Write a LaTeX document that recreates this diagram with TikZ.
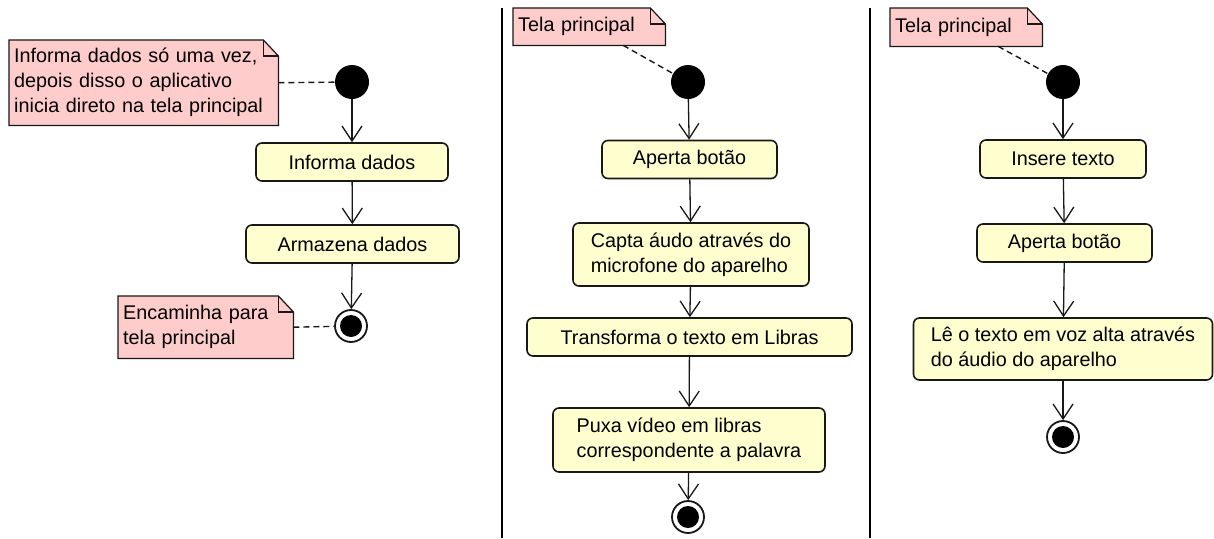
\documentclass[tikz,border=0pt]{standalone}
\usepackage{fontspec}
\setmainfont{Liberation Sans}
\usetikzlibrary{arrows.meta}
\pgfdeclarelayer{background}
\pgfsetlayers{background,main}
\definecolor{actfill}{HTML}{FEFECE}
\definecolor{notefill}{HTML}{FFCCCC}
\definecolor{lnk}{HTML}{181818}
\newcommand{\dogear}[1]{%
  \begin{pgfonlayer}{background}
  \filldraw[fill=notefill,draw=lnk,line width=1.2pt]
    (#1.north west) -- ([xshift=-15pt]#1.north east) -- ([yshift=-16pt]#1.north east)
    -- (#1.south east) -- (#1.south west) -- cycle;
  \draw[lnk,line width=1.2pt] ([xshift=-15pt]#1.north east) |- ([yshift=-16pt]#1.north east);
  \end{pgfonlayer}}
\tikzset{
  txt/.style={font=\fontsize{19.8}{25}\selectfont},
  act/.style={txt,draw=lnk,fill=actfill,line width=1.6pt,rounded corners=6pt,
    minimum height=38pt,inner sep=0pt,align=center},
  actm/.style={act,align=left},
  note/.style={txt,draw=none,fill=none,anchor=north west,inner xsep=5pt,inner ysep=0pt,align=left},
  startdot/.style={circle,fill=black,draw=none,minimum size=34pt,inner sep=0pt},
  endring/.style={circle,draw=lnk,line width=1.8pt,fill=white,minimum size=32pt,inner sep=0pt},
  flow/.style={lnk,line width=1.3pt,-{Straight Barb[length=15pt,width=20pt,line width=1.3pt]}},
  link/.style={lnk,line width=1.4pt,dash pattern=on 6pt off 4pt},
}
\begin{document}
\begin{tikzpicture}[x=1pt,y=-1pt]
\useasboundingbox (0,0) rectangle (1214,538);
\begin{pgfonlayer}{background}
\fill[white] (0,0) rectangle (1214,538);
\end{pgfonlayer}
% separators
\draw[black,line width=1.2pt] (502,8) -- (502,538);
\draw[black,line width=1.2pt] (870,8) -- (870,538);

% ---------- panel 1 ----------
\node[note,minimum width=269pt,minimum height=85pt,text width=259pt] (n1) at (9,40)
  {Informa dados só uma vez,\\depois disso o aplicativo\\inicia direto na tela principal};
\dogear{n1}
\node[startdot] (s1) at (352,82) {};
\node[act,minimum width=192pt] (a1) at (352,162) {Informa dados};
\node[act,minimum width=213pt] (a2) at (352.5,244) {Armazena dados};
\node[endring] (e1) at (351,326) {};
\fill[black] (e1.center) circle (11pt);
\node[note,minimum width=175pt,minimum height=62pt,text width=165pt] (n2) at (118,296)
  {Encaminha para\\tela principal};
\dogear{n2}
\draw[link] (n1.east) -- (s1);
\draw[link] (n2.east) -- (e1);
\draw[flow] (s1) -- (a1);
\draw[flow] (a1) -- (a2);
\draw[flow] (a2) -- (e1);

% ---------- panel 2 ----------
\node[note,minimum width=152pt,minimum height=37pt,text width=142pt] (n3) at (513,8) {Tela principal};
\dogear{n3}
\node[startdot] (s2) at (688,82) {};
\node[act,minimum width=175pt] (b1) at (689.5,159.5) {Aperta botão};
\node[actm,minimum width=236pt,minimum height=63pt] (b2) at (691,254.5)
  {Capta áudo através do\\microfone do aparelho};
\node[act,minimum width=325pt] (b3) at (689.5,337) {Transforma o texto em Libras};
\node[actm,minimum width=272pt,minimum height=64pt] (b4) at (689,440)
  {Puxa vídeo em libras\\correspondente a palavra};
\node[endring] (e2) at (688,517) {};
\fill[black] (e2.center) circle (11pt);
\draw[link] ([xshift=34pt]n3.south) -- (s2);
\draw[flow] (s2) -- (b1);
\draw[flow] (b1) -- (b2);
\draw[flow] (b2) -- (b3);
\draw[flow] (b3) -- (b4);
\draw[flow] (b4) -- (e2);

% ---------- panel 3 ----------
\node[note,minimum width=152pt,minimum height=38pt,text width=142pt] (n4) at (890,8) {Tela principal};
\dogear{n4}
\node[startdot] (s3) at (1063,82) {};
\node[act,minimum width=166pt] (c1) at (1063,159) {Insere texto};
\node[act,minimum width=175pt] (c2) at (1064.5,243) {Aperta botão};
\node[actm,minimum width=299pt,minimum height=62pt] (c3) at (1063,349)
  {Lê o texto em voz alta através\\do áudio do aparelho};
\node[endring] (e3) at (1063,437) {};
\fill[black] (e3.center) circle (11pt);
\draw[link] ([xshift=32pt]n4.south) -- (s3);
\draw[flow] (s3) -- (c1);
\draw[flow] (c1) -- (c2);
\draw[flow] (c2) -- (c3);
\draw[flow] (c3) -- (e3);
\end{tikzpicture}
\end{document}
